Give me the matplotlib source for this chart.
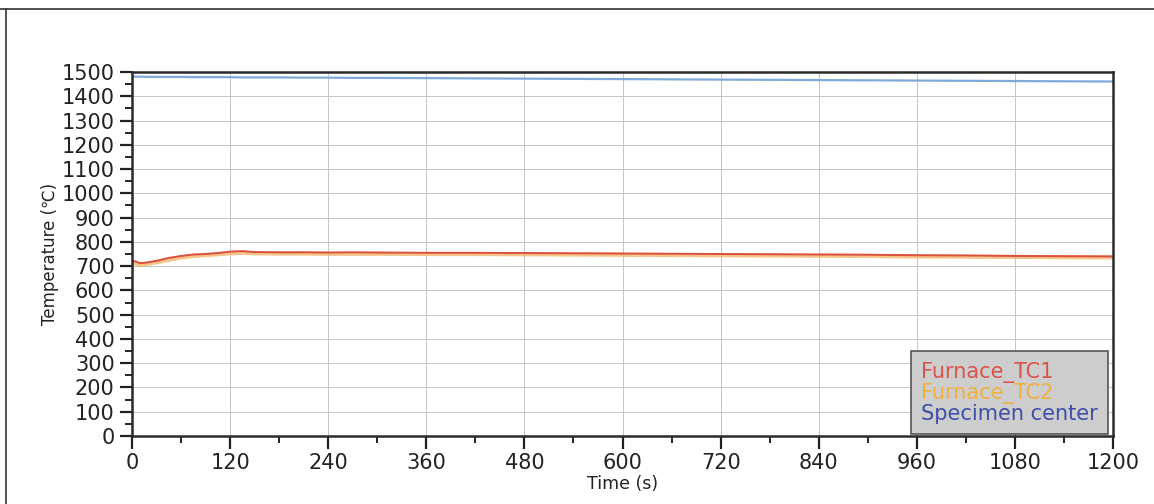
import numpy as np
import matplotlib.pyplot as plt
from matplotlib.lines import Line2D

# Furnace run: thermocouple readings over a 20 minute hold
time_s = [0, 10, 20, 30, 45, 60, 75, 90, 105, 120, 135, 150, 180, 210, 240,
          270, 300, 360, 420, 480, 540, 600, 660, 720, 780, 840, 900, 960,
          1020, 1080, 1140, 1200]
furnace_tc1 = [724, 712, 716, 722, 734, 742, 748, 750, 754, 760, 762, 758, 757,
               757, 756, 757, 756, 755, 755, 754, 753, 752, 751, 750, 749, 748,
               747, 745, 744, 742, 741, 740]
furnace_tc2 = [714, 706, 710, 716, 726, 736, 742, 746, 749, 753, 755, 753, 752,
               752, 751, 751, 751, 750, 750, 749, 748, 747, 746, 745, 744, 743,
               742, 740, 739, 738, 737, 736]
specimen_center = [1481, 1481, 1480, 1480, 1480, 1480, 1479, 1479, 1479, 1479,
                   1478, 1478, 1478, 1477, 1477, 1476, 1476, 1475, 1474, 1473,
                   1472, 1471, 1470, 1469, 1468, 1467, 1466, 1465, 1464, 1463,
                   1462, 1461]

series_names = ["Furnace_TC1", "Furnace_TC2", "Specimen center"]
line_colors = ["#d9503f", "#f4b46a", "#7fa9d8"]
text_colors = ["#d9534a", "#f0b040", "#3d4fa8"]

fig = plt.figure(figsize=(11.54, 5.04), dpi=100)
ax = fig.add_axes([0.1144, 0.135, 0.8501, 0.722])

ax.plot(time_s, furnace_tc2, color=line_colors[1], lw=3.0, alpha=0.8)
ax.plot(time_s, furnace_tc1, color=line_colors[0], lw=1.4)
ax.plot(time_s, specimen_center, color=line_colors[2], lw=1.6)

ax.set_xlim(0, 1200)
ax.set_ylim(0, 1500)
ax.set_xticks(np.arange(0, 1201, 120))
ax.set_xticks(np.arange(60, 1200, 120), minor=True)
ax.set_yticks(np.arange(0, 1501, 100))
ax.set_yticks(np.arange(50, 1500, 100), minor=True)
ax.grid(True, which="major", color="#c4c4c4", lw=0.7)

ax.tick_params(which="major", direction="out", length=9, width=1.6,
               labelsize=15, colors="#222222")
ax.tick_params(which="minor", direction="out", length=5, width=1.4,
               colors="#222222")
for side in ["left", "bottom", "top", "right"]:
    ax.spines[side].set_linewidth(1.8)
    ax.spines[side].set_color("#2a2a2a")

ax.set_xlabel("Time (s)", fontsize=12.5, labelpad=1, color="#222222")
ax.set_ylabel("Temperature (℃)", fontsize=12, labelpad=2, color="#222222")

# legend shows names only, coloured to match each trace
handles = [Line2D([], [], lw=0) for _ in series_names]
leg = ax.legend(handles, series_names, loc="lower right", fontsize=15,
                handlelength=0, handletextpad=0, borderpad=0.5,
                labelspacing=0.0, fancybox=False, framealpha=1,
                borderaxespad=0, bbox_to_anchor=(0.995, 0.005))
leg.get_frame().set_facecolor("#cdcdcd")
leg.get_frame().set_edgecolor("#555555")
leg.get_frame().set_linewidth(1.2)
for txt, c in zip(leg.get_texts(), text_colors):
    txt.set_color(c)

# page border lines of the printed report
fig.add_artist(Line2D([0, 1], [0.982, 0.982], color="#333333", lw=1.2))
fig.add_artist(Line2D([0.005, 0.005], [0, 0.982], color="#333333", lw=1.2))

fig.savefig("out.png", dpi=100)
